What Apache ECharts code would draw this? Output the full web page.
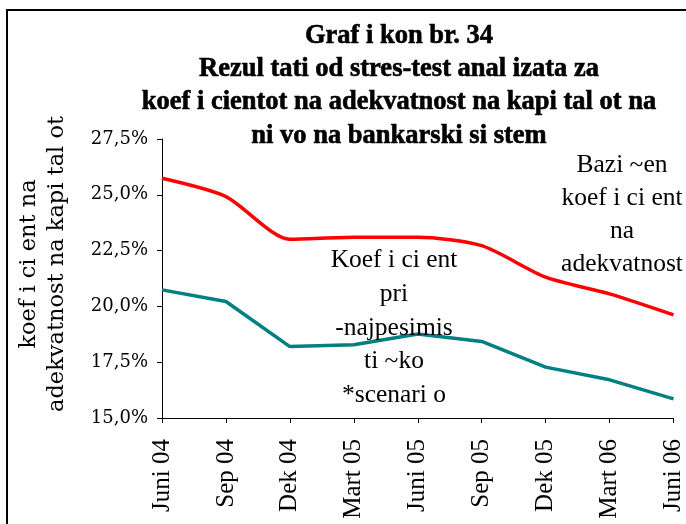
<!DOCTYPE html>
<html>
<head>
<meta charset="utf-8">
<script src="https://cdn.jsdelivr.net/npm/echarts@6/dist/echarts.min.js"></script>
<style>
  html, body { margin: 0; padding: 0; background: #ffffff; }
  #chart { width: 686px; height: 524px; }
</style>
</head>
<body>
<div id="chart"></div>
<script>
// Quarterly observation points on the category axis
const categories = ['Juni 04', 'Sep 04', 'Dek 04', 'Mart 05', 'Juni 05', 'Sep 05', 'Dek 05', 'Mart 06', 'Juni 06'];

// Capital adequacy ratio (%) – baseline and worst-case stress scenario
const baseRatio   = [25.74, 24.92, 23.01, 23.10, 23.10, 22.72, 21.31, 20.56, 19.62];
const stressRatio = [20.74, 20.22, 18.20, 18.28, 18.76, 18.43, 17.28, 16.71, 15.86];

// Value axis range and step
const yMin = 15.0;
const yMax = 27.5;
const yStep = 2.5;

// Text blocks
const titleLines = [
  'Graf i kon br. 34',
  'Rezul tati od stres-test anal izata za',
  'koef i cientot na adekvatnost na kapi tal ot na',
  'ni vo na bankarski si stem'
];
const yNameLines = ['koef i ci ent na', 'adekvatnost na kapi tal ot'];
const baseLabelLines = ['Bazi ~en', 'koef i ci ent', 'na', 'adekvatnost'];
const stressLabelLines = ['Koef i ci ent', 'pri', '-najpesimis', 'ti ~ko', '*scenari o'];

const dejavu = '"DejaVu Serif", serif';
const times = '"Liberation Serif", serif';

const chart = echarts.init(document.getElementById('chart'), null, { renderer: 'canvas' });

chart.setOption({
  backgroundColor: '#ffffff',
  animation: false,
  grid: { left: 162, right: 12, top: 139, bottom: 106, containLabel: false },
  xAxis: {
    type: 'category',
    data: categories,
    boundaryGap: false,
    axisLine: { lineStyle: { color: '#000000', width: 1 } },
    axisTick: { show: true, inside: false, length: 5, lineStyle: { color: '#000000' } },
    axisLabel: {
      rotate: 90,
      margin: 21,
      interval: 0,
      color: '#000000',
      fontFamily: times,
      fontSize: 25
    },
    splitLine: { show: false }
  },
  yAxis: {
    type: 'value',
    min: yMin,
    max: yMax,
    interval: yStep,
    axisLine: { show: true, lineStyle: { color: '#000000', width: 1 } },
    axisTick: { show: true, inside: false, length: 5, lineStyle: { color: '#000000' } },
    axisLabel: {
      margin: 14,
      color: '#000000',
      fontFamily: dejavu,
      fontSize: 18,
      formatter: v => v.toFixed(1).replace('.', ',') + '%'
    },
    splitLine: { show: false }
  },
  series: [
    {
      name: 'Bazi~en koeficient',
      type: 'line',
      data: baseRatio,
      smooth: 0.25,
      showSymbol: false,
      lineStyle: { color: '#ff0000', width: 3.5 },
      itemStyle: { color: '#ff0000' },
      z: 3
    },
    {
      name: 'Koeficient pri najpesimisti~ko scenario',
      type: 'line',
      data: stressRatio,
      smooth: false,
      showSymbol: false,
      lineStyle: { color: '#008080', width: 3.5 },
      itemStyle: { color: '#008080' },
      z: 3
    }
  ],
  graphic: [
    {
      type: 'rect',
      shape: { x: 7, y: 10, width: 720, height: 560 },
      style: { fill: 'none', stroke: '#000000', lineWidth: 2 },
      silent: true,
      z: 0
    },
    {
      type: 'text',
      x: 399,
      y: 86,
      z: 10,
      style: {
        text: titleLines.join('\n'),
        align: 'center',
        verticalAlign: 'middle',
        fill: '#000000',
        stroke: '#000000',
        lineWidth: 0.6,
        font: 'bold 26.5px "Liberation Serif", serif',
        lineHeight: 33.3
      }
    },
    {
      type: 'text',
      x: 43,
      y: 264,
      rotation: Math.PI / 2,
      z: 10,
      style: {
        text: yNameLines.join('\n'),
        align: 'center',
        verticalAlign: 'middle',
        fill: '#000000',
        font: '22.5px "DejaVu Serif", serif',
        lineHeight: 28
      }
    },
    {
      type: 'text',
      x: 622,
      y: 215,
      z: 10,
      style: {
        text: baseLabelLines.join('\n'),
        align: 'center',
        verticalAlign: 'middle',
        fill: '#000000',
        font: '25.5px "Liberation Serif", serif',
        lineHeight: 33
      }
    },
    {
      type: 'text',
      x: 394,
      y: 328,
      z: 10,
      style: {
        text: stressLabelLines.join('\n'),
        align: 'center',
        verticalAlign: 'middle',
        fill: '#000000',
        font: '25.5px "Liberation Serif", serif',
        lineHeight: 33.75
      }
    }
  ]
});
</script>
</body>
</html>
